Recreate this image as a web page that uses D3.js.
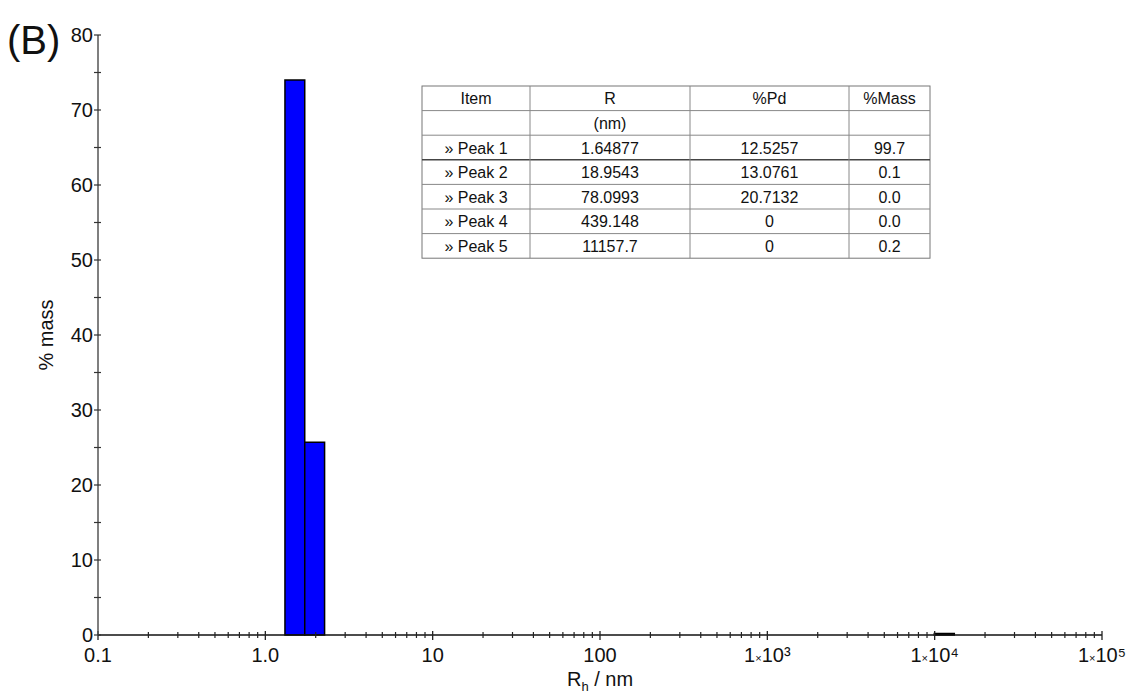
<!DOCTYPE html>
<html>
<head>
<meta charset="utf-8">
<script src="https://cdn.jsdelivr.net/npm/d3@7"></script>
<style>
  body { margin: 0; background: #fff; }
  svg { font-family: Arial, "Liberation Sans", sans-serif; }
</style>
</head>
<body>
<svg id="chart" width="1128" height="693"></svg>
<script>
// ---- data ----
const binLefts = [1.31, 1.72, 9950];
const binRights = [1.72, 2.26, 13100];
const massValues = [74.0, 25.7, 0.2];

const xTickValues = [0.1, 1, 10, 100, 1000, 10000, 100000];
const xTickLabels = ['0.1', '1.0', '10', '100', '1×10³', '1×10⁴', '1×10⁵'];
const yTickValues = [0, 10, 20, 30, 40, 50, 60, 70, 80];

const tableHeader = ['Item', 'R', '%Pd', '%Mass'];
const tableUnits = ['', '(nm)', '', ''];
const peakNames = ['» Peak 1', '» Peak 2', '» Peak 3', '» Peak 4', '» Peak 5'];
const peakR = ['1.64877', '18.9543', '78.0993', '439.148', '11157.7'];
const peakPd = ['12.5257', '13.0761', '20.7132', '0', '0'];
const peakMass = ['99.7', '0.1', '0.0', '0.0', '0.2'];

// ---- scales ----
const svg = d3.select('#chart');
const x = d3.scaleLog().domain([0.1, 100000]).range([98, 1102]);
const y = d3.scaleLinear().domain([0, 80]).range([635, 35]);

// bars
svg.append('g').selectAll('rect')
  .data(massValues)
  .enter()
  .append('rect')
  .attr('x', (d, i) => x(binLefts[i]))
  .attr('width', (d, i) => x(binRights[i]) - x(binLefts[i]))
  .attr('y', d => y(d))
  .attr('height', d => y(0) - y(d))
  .style('fill', '#0000ff')
  .style('stroke', '#000')
  .style('stroke-width', 1.5);

// x axis (major + minor ticks crossing the line)
const minorX = [];
for (let e = -1; e < 5; e++) {
  for (let m = 2; m <= 9; m++) minorX.push(m * Math.pow(10, e));
}
const gx = svg.append('g');
gx.append('line')
  .attr('x1', x(0.1)).attr('x2', x(100000))
  .attr('y1', y(0)).attr('y2', y(0))
  .style('stroke', '#111').style('stroke-width', 1.5);
gx.selectAll('.minor')
  .data(minorX)
  .enter()
  .append('line')
  .attr('x1', d => x(d)).attr('x2', d => x(d))
  .attr('y1', y(0) - 3).attr('y2', y(0) + 3)
  .style('stroke', '#222').style('stroke-width', 1.2);
gx.selectAll('.major')
  .data(xTickValues)
  .enter()
  .append('line')
  .attr('x1', d => x(d)).attr('x2', d => x(d))
  .attr('y1', y(0) - 4).attr('y2', y(0) + 5)
  .style('stroke', '#222').style('stroke-width', 1.3);
gx.selectAll('text')
  .data(xTickValues)
  .enter()
  .append('text')
  .attr('x', d => x(d))
  .attr('y', 662)
  .attr('text-anchor', 'middle')
  .style('font-size', '20px')
  .style('fill', '#111')
  .each(function(d, i) {
    const lbl = xTickLabels[i];
    const t = d3.select(this);
    if (lbl.indexOf('×') > 0) {
      t.append('tspan').text('1');
      t.append('tspan').text('×').style('font-size', '11px');
      t.append('tspan').text('10');
      t.append('tspan').text(lbl.slice(-1)).style('font-size', '20px');
    } else {
      t.text(lbl);
    }
  });

// y axis
const gy = svg.append('g');
gy.append('line')
  .attr('x1', x(0.1)).attr('x2', x(0.1))
  .attr('y1', y(0)).attr('y2', y(80))
  .style('stroke', '#555').style('stroke-width', 1.5);
gy.selectAll('.tick')
  .data(d3.range(0, 81, 5))
  .enter()
  .append('line')
  .attr('x1', x(0.1) - 4).attr('x2', x(0.1) + 3)
  .attr('y1', d => y(d)).attr('y2', d => y(d))
  .style('stroke', '#333').style('stroke-width', 1.2);
gy.selectAll('text')
  .data(yTickValues)
  .enter()
  .append('text')
  .attr('x', 93)
  .attr('y', d => y(d) + 7)
  .attr('text-anchor', 'end')
  .style('font-size', '20px')
  .style('fill', '#111')
  .text(d => d);

// axis titles
const xt = svg.append('text')
  .attr('x', 600).attr('y', 686)
  .attr('text-anchor', 'middle')
  .style('font-size', '20px')
  .style('fill', '#111');
xt.append('tspan').text('R');
xt.append('tspan').text('h').attr('dy', 5).style('font-size', '13px');
xt.append('tspan').text(' / nm').attr('dy', -5);

svg.append('text')
  .attr('transform', 'translate(53,335) rotate(-90)')
  .attr('text-anchor', 'middle')
  .style('font-size', '20px')
  .style('fill', '#111')
  .text('% mass');

svg.append('text')
  .attr('x', 7).attr('y', 54)
  .style('font-size', '40px')
  .style('fill', '#111')
  .text('(B)');

// ---- results table ----
const colX = [422, 530, 690, 849, 930];
const rowTop = 86, rowH = 24.6;
const rows = [tableHeader, tableUnits].concat(
  peakNames.map((n, i) => [n, peakR[i], peakPd[i], peakMass[i]])
);
const tbl = svg.append('g');
tbl.append('rect')
  .attr('x', colX[0]).attr('y', rowTop)
  .attr('width', colX[4] - colX[0]).attr('height', rowH * rows.length)
  .style('fill', '#fff').style('stroke', '#777').style('stroke-width', 1);
for (let r = 1; r < rows.length; r++) {
  tbl.append('line')
    .attr('x1', colX[0]).attr('x2', colX[4])
    .attr('y1', rowTop + r * rowH).attr('y2', rowTop + r * rowH)
    .style('stroke', r === 3 ? '#444' : '#888')
    .style('stroke-width', r === 3 ? 1.4 : 1);
}
for (let c = 1; c < 4; c++) {
  tbl.append('line')
    .attr('x1', colX[c]).attr('x2', colX[c])
    .attr('y1', rowTop).attr('y2', rowTop + rowH * rows.length)
    .style('stroke', '#888').style('stroke-width', 1);
}
rows.forEach((row, r) => {
  row.forEach((cell, c) => {
    tbl.append('text')
      .attr('x', (colX[c] + colX[c + 1]) / 2)
      .attr('y', rowTop + r * rowH + rowH / 2 + 6)
      .attr('text-anchor', 'middle')
      .style('font-size', '16px')
      .style('fill', '#111')
      .text(cell);
  });
});
</script>
</body>
</html>
